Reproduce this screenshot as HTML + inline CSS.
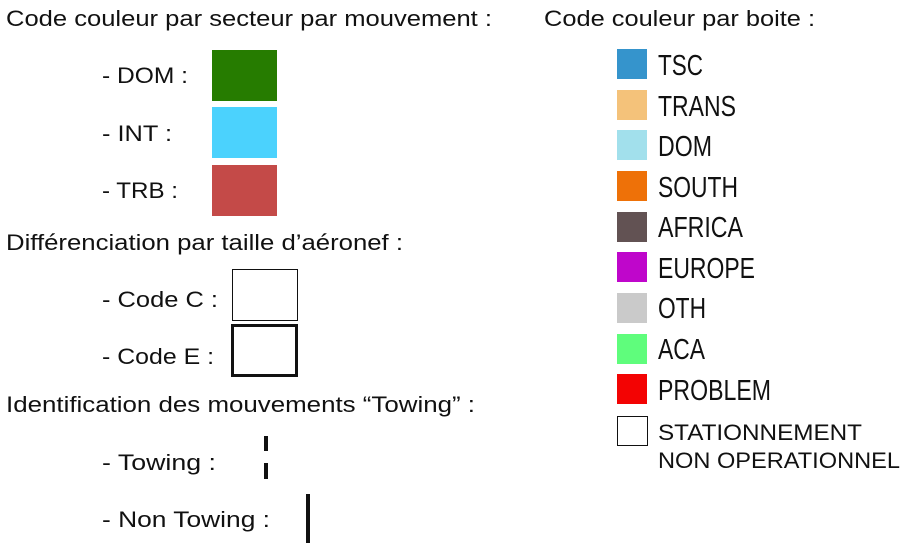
<!DOCTYPE html>
<html><head><meta charset="utf-8"><style>html,body{margin:0;padding:0;background:#fff;}svg{display:block}</style></head>
<body>
<svg width="912" height="551" xmlns="http://www.w3.org/2000/svg" font-family="Liberation Sans, sans-serif" fill="#111">
<g font-size="22.5">
<text x="6" y="26" textLength="486" lengthAdjust="spacingAndGlyphs">Code couleur par secteur par mouvement :</text>
<text x="102" y="83" textLength="86" lengthAdjust="spacingAndGlyphs">- DOM :</text>
<text x="102" y="141" textLength="70" lengthAdjust="spacingAndGlyphs">- INT :</text>
<text x="102" y="198" textLength="76" lengthAdjust="spacingAndGlyphs">- TRB :</text>
<text x="6" y="250" textLength="397" lengthAdjust="spacingAndGlyphs">Différenciation par taille d’aéronef :</text>
<text x="102" y="307" textLength="116" lengthAdjust="spacingAndGlyphs">- Code C :</text>
<text x="102" y="364" textLength="112" lengthAdjust="spacingAndGlyphs">- Code E :</text>
<text x="6" y="412" textLength="469" lengthAdjust="spacingAndGlyphs">Identification des mouvements “Towing” :</text>
<text x="102" y="470" textLength="114" lengthAdjust="spacingAndGlyphs">- Towing :</text>
<text x="102" y="527" textLength="168" lengthAdjust="spacingAndGlyphs">- Non Towing :</text>
<text x="544" y="26" textLength="271" lengthAdjust="spacingAndGlyphs">Code couleur par boite :</text>
</g>
<rect x="212" y="50" width="65" height="51" fill="#267c00"/>
<rect x="212" y="107" width="65" height="51" fill="#4bd2fd"/>
<rect x="212" y="165" width="65" height="51" fill="#c44a48"/>
<rect x="232.5" y="269.5" width="65" height="51" fill="none" stroke="#111" stroke-width="1"/>
<rect x="232.5" y="325.5" width="64" height="50" fill="none" stroke="#111" stroke-width="3"/>
<rect x="264" y="436" width="4" height="15" fill="#111"/>
<rect x="264" y="463" width="4" height="16" fill="#111"/>
<rect x="306" y="494" width="4" height="49" fill="#111"/>
<rect x="617" y="49" width="30" height="30" fill="#3594cc"/>
<rect x="617" y="90" width="30" height="30" fill="#f4c27a"/>
<rect x="617" y="130" width="30" height="30" fill="#a2e0ec"/>
<rect x="617" y="171" width="30" height="30" fill="#ee7108"/>
<rect x="617" y="212" width="30" height="30" fill="#625253"/>
<rect x="617" y="252" width="30" height="30" fill="#bf06cb"/>
<rect x="617" y="293" width="30" height="30" fill="#cacaca"/>
<rect x="617" y="334" width="30" height="30" fill="#5ffd7c"/>
<rect x="617" y="374" width="30" height="30" fill="#f30303"/>
<rect x="617.5" y="416.5" width="30" height="29" fill="none" stroke="#111" stroke-width="1"/>
<g font-size="29" font-family="Liberation Sans Narrow, Liberation Sans, sans-serif">
<text x="658" y="75" textLength="45" lengthAdjust="spacingAndGlyphs">TSC</text>
<text x="658" y="116" textLength="78" lengthAdjust="spacingAndGlyphs">TRANS</text>
<text x="658" y="156" textLength="54" lengthAdjust="spacingAndGlyphs">DOM</text>
<text x="658" y="197" textLength="80" lengthAdjust="spacingAndGlyphs">SOUTH</text>
<text x="658" y="237" textLength="85" lengthAdjust="spacingAndGlyphs">AFRICA</text>
<text x="658" y="278" textLength="97" lengthAdjust="spacingAndGlyphs">EUROPE</text>
<text x="658" y="318" textLength="48" lengthAdjust="spacingAndGlyphs">OTH</text>
<text x="658" y="359" textLength="47" lengthAdjust="spacingAndGlyphs">ACA</text>
<text x="658" y="400" textLength="113" lengthAdjust="spacingAndGlyphs">PROBLEM</text>
</g>
<g font-size="22">
<text x="658" y="440" textLength="204" lengthAdjust="spacingAndGlyphs">STATIONNEMENT</text>
<text x="658" y="468" textLength="242" lengthAdjust="spacingAndGlyphs">NON OPERATIONNEL</text>
</g>
</svg>
</body></html>
